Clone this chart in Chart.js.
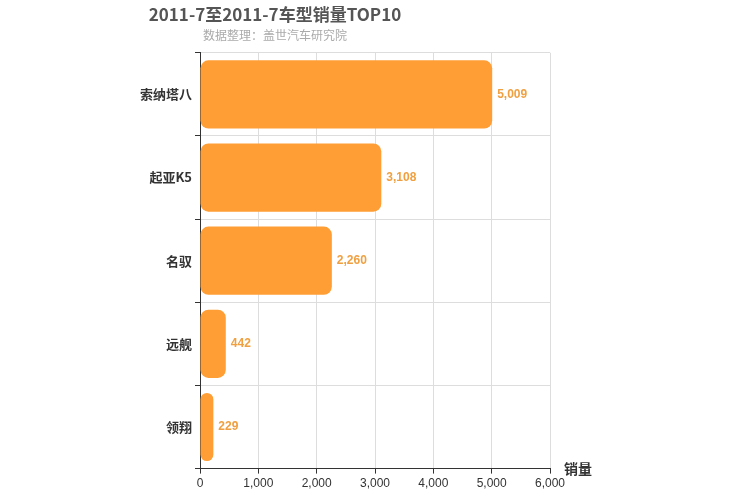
<!DOCTYPE html>
<html>
<head>
<meta charset="utf-8">
<script src="https://cdn.jsdelivr.net/npm/chart.js@4"></script>
<style>
  body { margin: 0; background: #fff; }
</style>
</head>
<body>
<canvas id="chart" width="750" height="500"></canvas>
<script>
// chart data
const models = ['索纳塔八', '起亚K5', '名驭', '远舰', '领翔'];
const sales = [5009, 3108, 2260, 442, 229];
const xTicks = [0, 1000, 2000, 3000, 4000, 5000, 6000];

// draw value labels next to each bar and the axis name
const labelPlugin = {
  id: 'labels',
  afterDatasetsDraw(chart) {
    const ctx = chart.ctx;
    const meta = chart.getDatasetMeta(0);
    ctx.save();
    ctx.font = 'bold 12px "Liberation Sans", Arial, sans-serif';
    ctx.fillStyle = '#f0a040';
    ctx.textBaseline = 'middle';
    meta.data.forEach((bar, i) => {
      ctx.fillText(sales[i].toLocaleString('en-US'), bar.x + 5, bar.y);
    });
    ctx.font = 'bold 14px "Noto Sans CJK SC", sans-serif';
    ctx.fillStyle = '#333';
    ctx.fillText('销量', chart.chartArea.right + 14, chart.chartArea.bottom);
    ctx.restore();
  }
};

new Chart(document.getElementById('chart').getContext('2d'), {
  type: 'bar',
  data: {
    labels: models,
    datasets: [{
      data: sales,
      backgroundColor: '#ff9e35',
      borderRadius: 8,
      borderSkipped: false,
      categoryPercentage: 1,
      barPercentage: 0.82
    }]
  },
  options: {
    indexAxis: 'y',
    responsive: false,
    animation: false,
    devicePixelRatio: 1,
    layout: { padding: { left: 0, right: 200, top: 0, bottom: 6 } },
    plugins: {
      legend: { display: false },
      tooltip: { enabled: false },
      title: {
        display: true,
        text: '2011-7至2011-7车型销量TOP10',
        color: '#555',
        font: { size: 17, weight: 'bold', family: '"Noto Sans CJK SC", sans-serif' },
        padding: { top: 4, bottom: 4 }
      },
      subtitle: {
        display: true,
        text: '数据整理：盖世汽车研究院',
        color: '#aaa',
        font: { size: 12, family: '"Noto Sans CJK SC", sans-serif' },
        padding: { bottom: 10 }
      }
    },
    scales: {
      x: {
        min: 0, max: 6000,
        afterBuildTicks: (axis) => { axis.ticks = xTicks.map(v => ({ value: v })); },
        grid: { color: '#ddd', tickColor: '#333', tickLength: 5 },
        border: { color: '#333' },
        ticks: { color: '#333', font: { size: 12, family: '"Liberation Sans", Arial' },
          callback: v => v.toLocaleString('en-US') }
      },
      y: {
        afterFit: (axis) => { axis.width = 200; },
        grid: { color: '#ddd', tickColor: '#333', tickLength: 5 },
        border: { color: '#333' },
        ticks: { color: '#333', font: { size: 13, weight: 'bold', family: '"Noto Sans CJK SC", sans-serif' } }
      }
    }
  },
  plugins: [labelPlugin]
});
</script>
</body>
</html>
